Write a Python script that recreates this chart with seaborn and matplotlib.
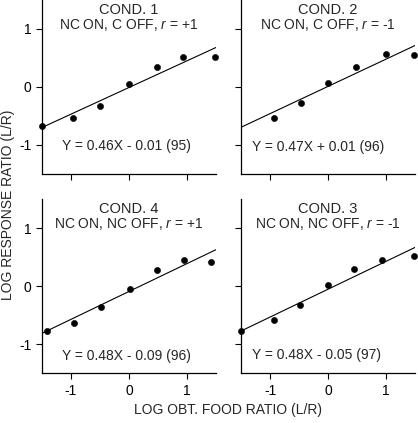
import pandas as pd
import seaborn as sns
import matplotlib.pyplot as plt

# ------------------------------------------------------------
# data
# ------------------------------------------------------------
cond_titles = ["COND. 1", "COND. 2", "COND. 4", "COND. 3"]
cond_subtitles = ["NC ON, C OFF, $r$ = +1", "NC ON, C OFF, $r$ = -1",
                  "NC ON, NC OFF, $r$ = +1", "NC ON, NC OFF, $r$ = -1"]
equations = ["Y = 0.46X - 0.01 (95)", "Y = 0.47X + 0.01 (96)",
             "Y = 0.48X - 0.09 (96)", "Y = 0.48X - 0.05 (97)"]
slopes = [0.46, 0.47, 0.48, 0.48]
intercepts = [-0.01, 0.01, -0.09, -0.05]

x_c1 = [-1.5, -0.96, -0.5, 0.0, 0.48, 0.94, 1.49]
y_c1 = [-0.68, -0.54, -0.33, 0.05, 0.35, 0.51, 0.51]
x_c2 = [-0.93, -0.47, 0.0, 0.48, 0.99, 1.48]
y_c2 = [-0.53, -0.27, 0.07, 0.35, 0.57, 0.55]
x_c4 = [-1.42, -0.95, -0.48, 0.02, 0.49, 0.95, 1.41]
y_c4 = [-0.77, -0.63, -0.36, -0.04, 0.28, 0.45, 0.42]
x_c3 = [-1.5, -0.94, -0.49, 0.0, 0.44, 0.93, 1.49]
y_c3 = [-0.77, -0.58, -0.33, 0.02, 0.30, 0.45, 0.53]

points = [(x_c1, y_c1), (x_c2, y_c2), (x_c4, y_c4), (x_c3, y_c3)]
ticks = [-1, 0, 1]

# ------------------------------------------------------------
# style
# ------------------------------------------------------------
sns.set_style("ticks")
plt.rcParams['font.family'] = ['Liberation Sans', 'DejaVu Sans']
plt.rcParams['mathtext.fontset'] = 'custom'
plt.rcParams['mathtext.rm'] = 'Liberation Sans'
plt.rcParams['mathtext.it'] = 'Liberation Sans:italic'
plt.rcParams['axes.unicode_minus'] = False
plt.rcParams['font.size'] = 10
plt.rcParams['xtick.major.size'] = 4
plt.rcParams['ytick.major.size'] = 4
plt.rcParams['xtick.color'] = 'black'
plt.rcParams['ytick.color'] = 'black'

fig = plt.figure(figsize=(4.18, 4.23), dpi=100)

# [left, bottom, width, height] in figure fractions
positions = [
    [0.1005, 0.589, 0.416, 0.411],
    [0.577, 0.589, 0.416, 0.411],
    [0.1005, 0.1175, 0.416, 0.4115],
    [0.577, 0.1175, 0.416, 0.4115],
]
eq_x = [-0.05, -0.18, -0.04, -0.2]
eq_y = [-1.02, -1.03, -1.2, -1.19]

for i in range(4):
    ax = fig.add_axes(positions[i])
    xs, ys = points[i]
    df = pd.DataFrame({'x': xs, 'y': ys})

    line_x = [-1.5, 1.5]
    line_df = pd.DataFrame({'x': line_x,
                            'y': [slopes[i] * v + intercepts[i] for v in line_x]})
    sns.lineplot(data=line_df, x='x', y='y', ax=ax, color='black', lw=0.8)
    sns.scatterplot(data=df, x='x', y='y', ax=ax, color='black', s=20,
                    edgecolor='black', clip_on=False, zorder=3)

    ax.set_xlim(-1.5, 1.5)
    ax.set_ylim(-1.5, 1.5)
    ax.set_xticks(ticks)
    ax.set_yticks(ticks)
    ax.set_xlabel("")
    ax.set_ylabel("")
    if i < 2:
        ax.set_xticklabels([])
    if i % 2 == 1:
        ax.set_yticklabels([])

    sns.despine(ax=ax)
    for s in ['left', 'bottom']:
        ax.spines[s].set_color('black')
        ax.spines[s].set_linewidth(0.9)

    ax.text(0, 1.33, cond_titles[i], ha='center', va='center', fontsize=10.5)
    ax.text(0, 1.07, cond_subtitles[i], ha='center', va='center', fontsize=10)
    ax.text(eq_x[i], eq_y[i], equations[i], ha='center', va='center', fontsize=10)

fig.text(0.545, 0.03, "LOG OBT. FOOD RATIO (L/R)", ha='center', va='center',
         fontsize=10)
fig.text(0.02, 0.515, "LOG RESPONSE RATIO (L/R)", ha='center', va='center',
         rotation=90, fontsize=10)

plt.savefig("out.png", dpi=100)
